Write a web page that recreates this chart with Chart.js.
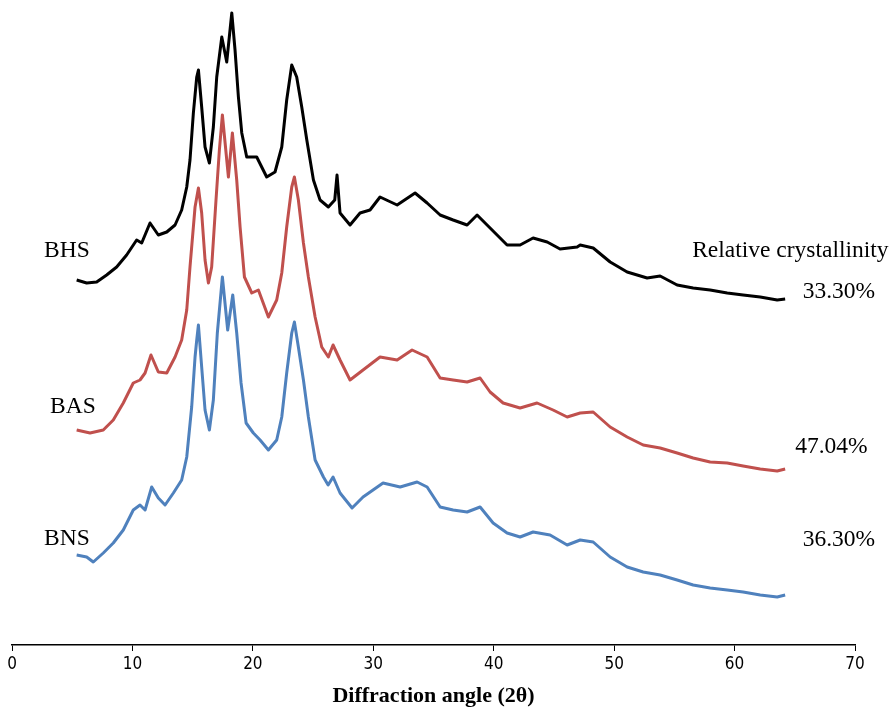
<!DOCTYPE html>
<html>
<head>
<meta charset="utf-8">
<script src="https://cdn.jsdelivr.net/npm/chart.js@4.4.1/dist/chart.umd.min.js"></script>
<style>
  html, body { margin: 0; padding: 0; background: #ffffff; }
  #wrap { width: 893px; height: 712px; position: relative; }
</style>
</head>
<body>
<div id="wrap"><canvas id="c" width="893" height="712"></canvas></div>
<script>
// ---- Data (2θ in degrees, intensity in arbitrary units) ----
const xTicks = [0, 10, 20, 30, 40, 50, 60, 70];

const bhsAngle = [5.37, 6.20, 7.03, 7.86, 8.69, 9.52, 10.35, 10.77, 11.46, 12.15, 12.85, 13.54, 14.09, 14.51, 14.78, 15.06, 15.34, 15.48, 15.75, 16.03, 16.39, 16.72, 17.00, 17.42, 17.83, 18.25, 18.52, 18.80, 19.08, 19.49, 20.32, 21.15, 21.84, 22.40, 22.81, 23.23, 23.64, 24.06, 24.48, 25.03, 25.58, 26.27, 26.80, 26.99, 27.24, 28.07, 28.90, 29.73, 30.56, 31.98, 33.47, 34.47, 35.55, 36.63, 37.79, 38.62, 39.45, 40.28, 41.11, 42.19, 43.27, 44.44, 45.51, 46.93, 47.18, 48.26, 49.67, 51.08, 52.74, 53.82, 55.23, 56.56, 57.97, 59.39, 60.71, 62.13, 63.54, 64.20];
const bhsIntensity = [365, 362, 363, 370, 378, 390, 405, 402, 422, 410, 413, 420, 435, 458, 485, 532, 568, 575, 538, 498, 482, 518, 568, 608, 583, 632, 595, 548, 512, 488, 488, 468, 473, 498, 545, 580, 568, 538, 505, 465, 445, 438, 445, 470, 432, 420, 432, 435, 448, 440, 452, 442, 430, 425, 420, 430, 420, 410, 400, 400, 407, 403, 396, 398, 400, 397, 383, 373, 367, 369, 360, 357, 355, 352, 350, 348, 345, 346];

const basAngle = [5.37, 6.48, 7.58, 8.41, 9.24, 10.07, 10.63, 11.05, 11.54, 12.15, 12.85, 13.54, 14.09, 14.51, 14.78, 15.20, 15.48, 15.75, 16.03, 16.31, 16.58, 16.94, 17.22, 17.47, 17.97, 18.30, 18.66, 18.94, 19.30, 19.91, 20.46, 21.29, 21.98, 22.40, 22.81, 23.23, 23.45, 23.78, 24.20, 24.61, 25.17, 25.72, 26.27, 26.66, 27.24, 28.07, 29.15, 30.56, 31.98, 33.22, 34.47, 35.55, 36.63, 37.79, 38.87, 39.70, 40.78, 42.19, 43.60, 44.93, 46.10, 47.18, 48.26, 49.67, 51.08, 52.41, 53.82, 55.23, 56.56, 57.97, 59.39, 60.71, 62.13, 63.54, 64.20];
const basIntensity = [215, 212, 215, 225, 242, 262, 265, 272, 290, 273, 272, 288, 305, 335, 378, 438, 457, 432, 385, 362, 378, 445, 495, 530, 468, 512, 465, 418, 368, 352, 355, 328, 345, 372, 418, 458, 468, 445, 402, 368, 328, 298, 288, 300, 285, 265, 275, 288, 285, 295, 288, 267, 265, 263, 267, 253, 242, 237, 242, 235, 228, 232, 233, 218, 208, 200, 197, 192, 187, 183, 182, 179, 176, 174, 176];

const bnsAngle = [5.37, 6.20, 6.75, 7.58, 8.41, 9.24, 10.07, 10.63, 11.05, 11.60, 12.15, 12.71, 13.40, 14.09, 14.51, 14.92, 15.20, 15.34, 15.48, 15.75, 16.03, 16.39, 16.72, 17.05, 17.47, 17.91, 18.33, 18.66, 19.02, 19.44, 20.04, 20.60, 21.29, 21.98, 22.40, 22.81, 23.23, 23.45, 23.78, 24.20, 24.61, 25.17, 25.86, 26.25, 26.66, 27.24, 28.24, 29.15, 30.81, 32.23, 33.64, 34.47, 35.55, 36.63, 37.79, 38.87, 39.95, 41.11, 42.19, 43.27, 44.68, 46.10, 47.18, 48.26, 49.67, 51.08, 52.41, 53.82, 55.23, 56.56, 57.97, 59.39, 60.71, 62.13, 63.54, 64.20];
const bnsIntensity = [90, 88, 83, 92, 102, 115, 135, 140, 135, 158, 147, 140, 152, 165, 188, 238, 288, 305, 320, 278, 235, 215, 245, 312, 368, 315, 350, 312, 262, 222, 212, 205, 195, 205, 228, 272, 312, 323, 298, 265, 228, 185, 168, 160, 168, 152, 137, 148, 162, 158, 163, 158, 138, 135, 133, 138, 122, 112, 108, 113, 110, 100, 105, 103, 88, 78, 73, 70, 65, 60, 57, 55, 53, 50, 48, 50];

const seriesNames = ['BHS', 'BAS', 'BNS'];
const crystallinity = ['33.30%', '47.04%', '36.30%'];

// ---- Build the chart ----
function pts(ax, ay) { return ax.map((x, i) => ({ x: x, y: ay[i] })); }

const serif = '"Liberation Serif", "Times New Roman", Times, serif';

const textPlugin = {
  id: 'annotText',
  afterDatasetsDraw(chart) {
    const { ctx, scales } = chart;
    const xs = scales.x, ys = scales.y;
    const items = [
      { t: seriesNames[0], x: 2.66, y: 388 },
      { t: seriesNames[1], x: 3.16, y: 232 },
      { t: seriesNames[2], x: 2.66, y: 100 },
      { t: 'Relative crystallinity', x: 56.48, y: 388 },
      { t: crystallinity[0], x: 65.66, y: 347 },
      { t: crystallinity[1], x: 65.03, y: 192 },
      { t: crystallinity[2], x: 65.66, y: 99 }
    ];
    ctx.save();
    ctx.fillStyle = '#000000';
    ctx.font = '23.5px ' + serif;
    ctx.textAlign = 'left';
    ctx.textBaseline = 'alphabetic';
    items.forEach(it => {
      ctx.fillText(it.t, xs.getPixelForValue(it.x), ys.getPixelForValue(it.y));
    });
    ctx.restore();
  }
};

new Chart(document.getElementById('c'), {
  type: 'line',
  data: {
    datasets: [
      { label: seriesNames[0], data: pts(bhsAngle, bhsIntensity), borderColor: '#000000' },
      { label: seriesNames[1], data: pts(basAngle, basIntensity), borderColor: '#C0504D' },
      { label: seriesNames[2], data: pts(bnsAngle, bnsIntensity), borderColor: '#4F81BD' }
    ]
  },
  options: {
    responsive: false,
    animation: false,
    devicePixelRatio: 1,
    layout: { padding: { left: 12, right: 38, top: 0, bottom: 0 } },
    elements: {
      point: { radius: 0 },
      line: { borderWidth: 3, tension: 0, fill: false, borderJoinStyle: 'round' }
    },
    plugins: {
      legend: { display: false },
      tooltip: { enabled: false }
    },
    scales: {
      x: {
        type: 'linear',
        min: 0,
        max: 70,
        afterBuildTicks(scale) { scale.ticks = xTicks.map(v => ({ value: v })); },
        afterFit(scale) { scale.height = 67; },
        ticks: {
          color: '#000000',
          padding: 3,
          font: { family: '"Liberation Sans Narrow", "DejaVu Sans Condensed", "Liberation Sans", sans-serif', size: 17 }
        },
        grid: {
          display: true,
          drawOnChartArea: false,
          drawTicks: true,
          tickLength: 6,
          color: '#000000',
          lineWidth: 1
        },
        border: { display: true, color: '#000000', width: 1.5 },
        title: {
          display: true,
          text: 'Diffraction angle (2θ)',
          color: '#000000',
          font: { family: serif, size: 22, weight: 'bold' },
          padding: { top: 0, bottom: 2 }
        }
      },
      y: {
        display: false,
        min: 0,
        max: 645
      }
    }
  },
  plugins: [textPlugin]
});
</script>
</body>
</html>
